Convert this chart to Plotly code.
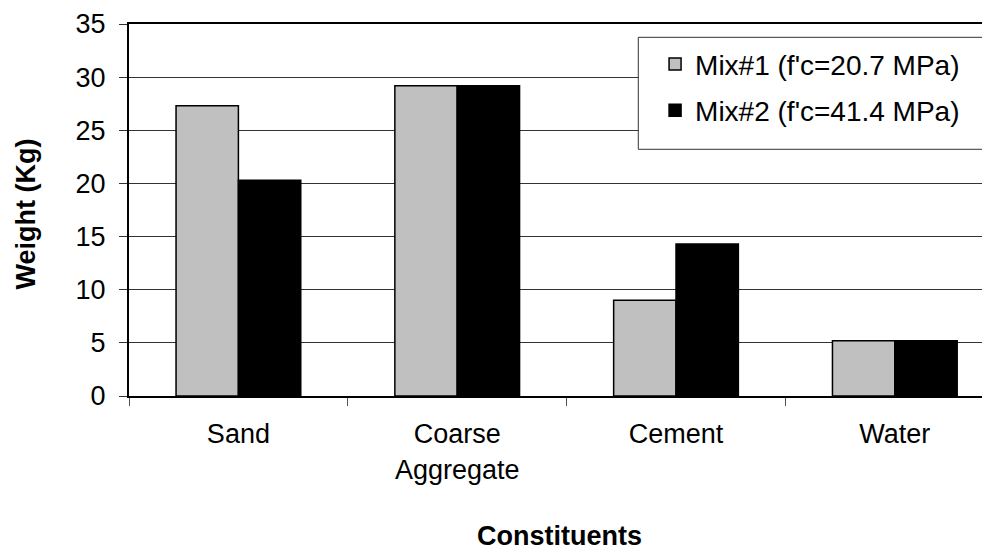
import plotly.graph_objects as go

categories = ["Sand", "Coarse<br>Aggregate", "Cement", "Water"]
mix1_name = "Mix#1 (f'c=20.7 MPa)"
mix2_name = "Mix#2 (f'c=41.4 MPa)"
mix1_values = [27.3, 29.2, 9.0, 5.2]
mix2_values = [20.3, 29.2, 14.3, 5.2]
y_ticks = [0, 5, 10, 15, 20, 25, 30, 35]

FONT = "Liberation Sans, Arial, sans-serif"
FS = 27

fig = go.Figure()
fig.add_trace(go.Bar(
    x=categories, y=mix1_values, name=mix1_name,
    marker=dict(color="#C0C0C0", line=dict(color="#000000", width=1.5)),
    legendgroup="a",
))
fig.add_trace(go.Bar(
    x=categories, y=mix2_values, name=mix2_name,
    marker=dict(color="#000000", line=dict(color="#000000", width=1.5)),
    legendgroup="b",
))

fig.update_layout(
    width=982, height=546,
    autosize=False,
    margin=dict(l=121, r=0, t=16, b=158, pad=0),
    paper_bgcolor="white",
    plot_bgcolor="white",
    barmode="group",
    bargap=0.43,
    bargroupgap=0,
    font=dict(family=FONT, size=FS, color="black"),
    showlegend=True,
    legend=dict(
        x=0.611, y=0.959, xanchor="left", yanchor="top",
        bgcolor="rgba(0,0,0,0)", borderwidth=0,
        font=dict(family=FONT, size=28, color="black"),
        traceorder="grouped", tracegroupgap=7,
    ),
    xaxis=dict(
        type="category",
        range=[-0.5, 3.435],
        showline=True, linecolor="black", linewidth=2,
        mirror=True,
        ticks="outside", tickson="boundaries", ticklen=8, tickcolor="#555555", tickwidth=1,
        showgrid=False,
        tickfont=dict(family=FONT, size=FS, color="black"),
        ticklabelstandoff=13,
    ),
    yaxis=dict(
        range=[0, 35],
        tickvals=y_ticks,
        showline=True, linecolor="black", linewidth=2,
        ticks="outside", ticklen=8, tickcolor="#333333", tickwidth=1,
        showgrid=True, gridcolor="#333333", gridwidth=1,
        zeroline=False,
        tickfont=dict(family=FONT, size=FS, color="black"),
        ticklabelstandoff=8,
    ),
    shapes=[
        dict(type="rect", xref="paper", yref="paper",
             x0=0.5915, x1=0.9922, y0=0.6632, y1=0.9642,
             fillcolor="white", line=dict(color="#333333", width=1),
             layer="above"),
    ],
    annotations=[
        dict(text="<b>Constituents</b>", xref="paper", yref="paper",
             x=0.5, y=0, xanchor="center", yanchor="middle", yshift=-140,
             showarrow=False, font=dict(family=FONT, size=FS, color="black")),
        dict(text="<b>Weight (Kg)</b>", xref="paper", yref="paper",
             x=-0.12, y=0.49, xanchor="center", yanchor="middle", textangle=-90,
             showarrow=False, font=dict(family=FONT, size=FS, color="black")),
    ],
)

fig.write_html("out.html")
